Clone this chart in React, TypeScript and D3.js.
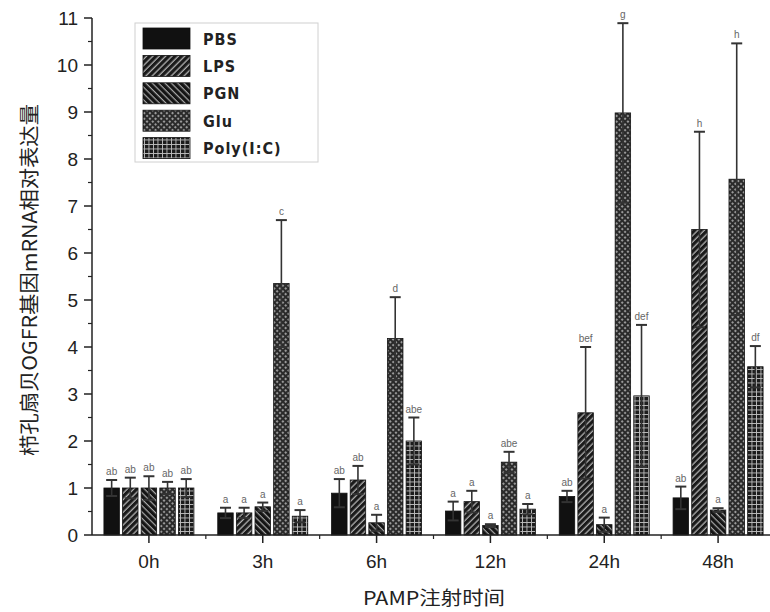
import React from "react";
import * as d3 from "d3";

const categories = ["0h", "3h", "6h", "12h", "24h", "48h"];
const seriesNames = ["PBS", "LPS", "PGN", "Glu", "Poly(I:C)"];
const pbsMean = [1.0, 0.47, 0.89, 0.51, 0.82, 0.79];
const lpsMean = [1.0, 0.47, 1.17, 0.71, 2.6, 6.5];
const pgnMean = [1.0, 0.6, 0.26, 0.2, 0.22, 0.53];
const gluMean = [1.0, 5.35, 4.18, 1.55, 8.98, 7.57];
const polyMean = [1.0, 0.4, 2.0, 0.55, 2.96, 3.58];
const pbsErr = [0.17, 0.11, 0.3, 0.2, 0.12, 0.24];
const lpsErr = [0.22, 0.11, 0.3, 0.23, 1.4, 2.08];
const pgnErr = [0.25, 0.09, 0.17, 0.03, 0.15, 0.04];
const gluErr = [0.13, 1.35, 0.88, 0.22, 1.91, 2.89];
const polyErr = [0.19, 0.13, 0.5, 0.11, 1.51, 0.44];
const pbsLetters = ["ab", "a", "ab", "a", "ab", "ab"];
const lpsLetters = ["ab", "a", "ab", "a", "bef", "h"];
const pgnLetters = ["ab", "a", "a", "a", "a", "a"];
const gluLetters = ["ab", "c", "d", "abe", "g", "h"];
const polyLetters = ["ab", "a", "abe", "a", "def", "df"];
const yTicks = [0, 1, 2, 3, 4, 5, 6, 7, 8, 9, 10, 11];
const yTitle = "栉孔扇贝OGFR基因mRNA相对表达量";
const xTitle = "PAMP注射时间";

const means = [pbsMean, lpsMean, pgnMean, gluMean, polyMean];
const errs = [pbsErr, lpsErr, pgnErr, gluErr, polyErr];
const letters = [pbsLetters, lpsLetters, pgnLetters, gluLetters, polyLetters];
const fills = ["#111", "url(#pLPS)", "url(#pPGN)", "url(#pGlu)", "url(#pPoly)"];

export default function App() {
  const W = 770, H = 612;
  const x = d3.scaleBand<string>().domain(categories).range([92, 775]);
  const inner = d3.scaleBand<string>().domain(seriesNames).range([-45, 45]).paddingInner(0.17);
  const y = d3.scaleLinear().domain([0, 11]).range([535, 18]);
  const minorY = d3.range(0.5, 11, 1);
  const bw = inner.bandwidth();
  const capW = 11;

  return (
    <svg width={W} height={H} style={{ position: "absolute", left: 0, top: 0, background: "#fff" }}>
      <defs>
        <pattern id="pLPS" width="4.5" height="4.5" patternUnits="userSpaceOnUse" patternTransform="rotate(45)">
          <rect width="4.5" height="4.5" fill="#b0b0b0" />
          <rect width="3.2" height="4.5" fill="#1a1a1a" />
        </pattern>
        <pattern id="pPGN" width="4.5" height="4.5" patternUnits="userSpaceOnUse" patternTransform="rotate(-45)">
          <rect width="4.5" height="4.5" fill="#a8a8a8" />
          <rect width="3.3" height="4.5" fill="#151515" />
        </pattern>
        <pattern id="pGlu" width="4" height="4" patternUnits="userSpaceOnUse" patternTransform="rotate(45)">
          <rect width="4" height="4" fill="#2a2a2a" />
          <circle cx="2" cy="2" r="1.1" fill="#b5b5b5" />
        </pattern>
        <pattern id="pPoly" width="4.5" height="4.5" patternUnits="userSpaceOnUse">
          <rect width="4.5" height="4.5" fill="#1c1c1c" />
          <rect x="0" y="0" width="4.5" height="0.9" fill="#bdbdbd" />
          <rect x="0" y="0" width="0.9" height="4.5" fill="#bdbdbd" />
        </pattern>
      </defs>

      {/* bars */}
      {seriesNames.map((s, si) =>
        categories.map((c, ci) => {
          const cx = (x(c) as number) + x.bandwidth() / 2 + (inner(s) as number);
          const v = means[si][ci];
          return (
            <rect key={s + c} x={cx} y={y(v)} width={bw} height={y(0) - y(v)}
              fill={fills[si]} stroke="#111" strokeWidth={0.8} />
          );
        })
      )}

      {/* error bars */}
      {seriesNames.map((s, si) =>
        categories.map((c, ci) => {
          const cx = (x(c) as number) + x.bandwidth() / 2 + (inner(s) as number) + bw / 2;
          const v = means[si][ci];
          const e = errs[si][ci];
          const top = y(v + e);
          const bot = y(Math.max(0, v - e));
          return (
            <g key={"e" + s + c}>
              <line x1={cx} x2={cx} y1={top} y2={bot} stroke="#333" strokeWidth={1.6} />
              <line x1={cx - capW / 2} x2={cx + capW / 2} y1={top} y2={top} stroke="#333" strokeWidth={2} />
              <line x1={cx - capW / 2} x2={cx + capW / 2} y1={bot} y2={bot} stroke="#333" strokeWidth={2} />
              <text x={cx} y={top - 5} textAnchor="middle" fontSize={10}
                fontFamily="Liberation Sans, Arial, sans-serif" fill="#666">{letters[si][ci]}</text>
            </g>
          );
        })
      )}

      {/* y axis */}
      <line x1={92} x2={92} y1={y(11)} y2={y(0)} stroke="#222" strokeWidth={1.5} />
      {yTicks.map((t) => (
        <g key={"yt" + t}>
          <line x1={84} x2={92} y1={y(t)} y2={y(t)} stroke="#222" strokeWidth={1.5} />
          <text x={78} y={y(t)} dy="0.35em" textAnchor="end" fontSize={19}
            fontFamily="Liberation Sans, Arial, sans-serif" fill="#222">{t}</text>
        </g>
      ))}
      {minorY.map((t) => (
        <line key={"ym" + t} x1={88} x2={92} y1={y(t)} y2={y(t)} stroke="#222" strokeWidth={1.2} />
      ))}

      {/* x axis */}
      <line x1={92} x2={770} y1={y(0)} y2={y(0)} stroke="#222" strokeWidth={1.5} />
      {categories.map((c) => {
        const cx = (x(c) as number) + x.bandwidth() / 2;
        return (
          <g key={"xt" + c}>
            <line x1={cx} x2={cx} y1={y(0)} y2={y(0) + 8} stroke="#222" strokeWidth={1.5} />
            <text x={cx} y={y(0) + 33} textAnchor="middle" fontSize={19}
              fontFamily="Liberation Sans, Arial, sans-serif" fill="#222">{c}</text>
          </g>
        );
      })}
      {categories.slice(1).map((c) => (
        <line key={"xm" + c} x1={x(c) as number} x2={x(c) as number} y1={y(0)} y2={y(0) + 4}
          stroke="#222" strokeWidth={1.2} />
      ))}

      {/* axis titles */}
      <text transform={`translate(37,280) rotate(-90)`} textAnchor="middle" fontSize={20}
        fontFamily="Noto Sans CJK SC, sans-serif" fill="#222" textLength={352}
        lengthAdjust="spacingAndGlyphs">{yTitle}</text>
      <text x={434} y={605} textAnchor="middle" fontSize={19}
        fontFamily="Noto Sans CJK SC, sans-serif" fill="#222" textLength={142}
        lengthAdjust="spacingAndGlyphs">{xTitle}</text>

      {/* legend */}
      <rect x={135} y={23} width={183} height={139} fill="#fff" stroke="#d0d0d0" strokeWidth={1} />
      {seriesNames.map((s, si) => (
        <g key={"lg" + s}>
          <rect x={143} y={28 + si * 27.4} width={47} height={21} fill={fills[si]} stroke="#111" strokeWidth={0.8} />
          <text x={203} y={39 + si * 27.4} dy="0.35em" fontSize={16} fontWeight={600} letterSpacing={1}
            fontFamily="DejaVu Sans Condensed, DejaVu Sans, sans-serif" fill="#222">{s}</text>
        </g>
      ))}
    </svg>
  );
}
